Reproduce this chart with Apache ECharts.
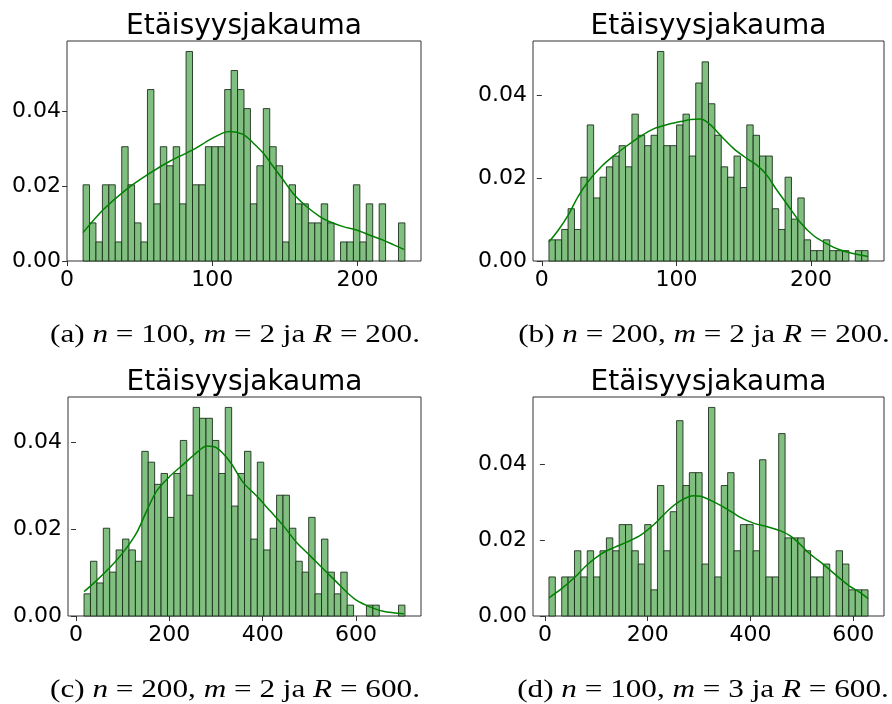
<!DOCTYPE html>
<html><head><meta charset="utf-8">
<script src="https://cdn.jsdelivr.net/npm/echarts@6/dist/echarts.min.js"></script>
<style>html,body{margin:0;padding:0;background:#fff}#c{width:892px;height:704px}</style>
</head><body><div id="c"></div>
<script>
const titleText = 'Etäisyysjakauma';
const captions = [
  '(a) {i|n} = 100, {i|m} = 2 ja {i|R} = 200.',
  '(b) {i|n} = 200, {i|m} = 2 ja {i|R} = 200.',
  '(c) {i|n} = 200, {i|m} = 2 ja {i|R} = 600.',
  '(d) {i|n} = 100, {i|m} = 3 ja {i|R} = 600.'
];
const yTicks = [0, 0.02, 0.04];
const xTicksA = [0, 100, 200];
const xTicksB = [0, 100, 200];
const xTicksC = [0, 200, 400, 600];
const xTicksD = [0, 200, 400, 600];

// Panel a
const binRangeA = [11.0, 232.6];
const heightsA = [0.0204,0.0102,0.0051,0.0204,0.0204,0.0051,0.0306,0.0204,0.0102,0.0051,0.0459,0.0153,0.0306,0.0255,0.0306,0.0153,0.0561,0.0204,0.0204,0.0306,0.0306,0.0306,0.0459,0.0510,0.0459,0.0408,0.0153,0.0255,0.0408,0.0306,0.0255,0.0051,0.0204,0.0153,0.0153,0.0102,0.0102,0.0153,0.0102,0,0.0051,0.0051,0.0204,0.0051,0.0153,0,0.0153,0,0,0.0102];
const kdeXA = [11.0,24.8,40.9,57.0,70.7,86.8,98.3,107.4,112.0,121.2,128.1,135.0,141.9,148.8,155.6,164.9,174.0,180.9,190.1,199.3,208.5,217.6,224.5,231.9];
const kdeYA = [0.0076,0.0137,0.0192,0.0235,0.0267,0.0298,0.0325,0.0343,0.0347,0.0339,0.0316,0.0289,0.0253,0.0217,0.0181,0.0146,0.0119,0.0105,0.0092,0.0083,0.0069,0.0056,0.0044,0.0031];

// Panel b
const binRangeB = [5.3, 242.3];
const heightsB = [0.0051,0.0051,0.0076,0.0126,0.0076,0.0202,0.0328,0.0152,0.0202,0.0227,0.0253,0.0278,0.0227,0.0354,0.0303,0.0278,0.0303,0.0505,0.0278,0.0278,0.0328,0.0354,0.0253,0.0429,0.0480,0.0379,0.0303,0.0227,0.0202,0.0253,0.0177,0.0328,0.0303,0.0253,0.0253,0.0126,0.0076,0.0202,0.0101,0.0152,0.0051,0.0025,0.0025,0.0051,0.0025,0.0025,0.0025,0,0.0025,0.0025];
const kdeXB = [5.3,12.2,19.5,26.9,34.3,44.1,54.0,63.8,73.6,83.4,93.3,103.1,110.5,117.9,125.3,132.6,142.5,152.3,159.7,167.1,174.5,181.9,191.7,201.5,211.4,221.2,231.0,242.3];
const kdeYB = [0.0046,0.0074,0.0110,0.0155,0.0191,0.0227,0.0255,0.0279,0.0301,0.0319,0.0329,0.0336,0.0341,0.0342,0.0328,0.0303,0.0271,0.0247,0.0231,0.0207,0.0171,0.0138,0.0094,0.0062,0.0042,0.0027,0.0018,0.0011];

// Panel c
const binRangeC = [17.1, 705.0];
const heightsC = [0.0051,0.0126,0.0076,0.0202,0.0101,0.0152,0.0177,0.0152,0.0126,0.0379,0.0354,0.0303,0.0328,0.0227,0.0328,0.0404,0.0278,0.0480,0.0455,0.0455,0.0404,0.0328,0.0480,0.0253,0.0328,0.0379,0.0177,0.0354,0.0152,0.0202,0.0278,0.0278,0.0202,0.0126,0.0101,0.0227,0.0051,0.0177,0.0101,0.0051,0.0101,0.0025,0,0,0.0025,0.0025,0,0,0,0.0025];
const kdeXC = [17.1,44.3,72.9,101.4,130,151.4,172.9,201.4,230,258.6,280,301.4,330,358.5,387.2,415.7,444.2,472.8,501.4,530,558.6,580,601.4,630,658.5,702.8];
const kdeYC = [0.0056,0.0082,0.0112,0.0147,0.0192,0.0242,0.0288,0.0322,0.0349,0.0376,0.0391,0.0387,0.0355,0.0307,0.0276,0.0242,0.0208,0.0169,0.0139,0.0108,0.0078,0.0055,0.0036,0.0021,0.0011,0.0005];

// Panel d
const binRangeD = [7.9, 629.0];
const heightsD = [0.0103,0,0.0103,0.0103,0.0172,0.0103,0.0172,0.0103,0.0172,0.0206,0.0172,0.0241,0.0241,0.0172,0.0137,0.0241,0.0069,0.0344,0.0172,0.0275,0.0515,0.0344,0.0378,0.0378,0.0137,0.0550,0.0103,0.0344,0.0378,0.0172,0.0241,0.0241,0.0172,0.0412,0.0103,0.0103,0.0481,0.0206,0.0206,0.0206,0.0172,0.0103,0.0103,0.0137,0,0.0172,0.0137,0.0069,0.0069,0.0069];
const kdeXD = [8,32.5,58.2,84,109.8,135.5,161.4,187.1,212.8,238.6,264.3,290,303,328.7,354.6,380.3,406,431.9,457.6,476.9,496.2,515.5,541.3,567.1,592.9,612.2,629];
const kdeYD = [0.0048,0.0072,0.0102,0.0137,0.0164,0.0181,0.0196,0.0214,0.0242,0.0277,0.0304,0.0317,0.0316,0.0301,0.0282,0.0260,0.0245,0.0236,0.0225,0.0212,0.0190,0.0164,0.0137,0.0107,0.0079,0.0063,0.0046];

const panels = [
  {range: binRangeA, h: heightsA, kx: kdeXA, ky: kdeYA, xt: xTicksA, grid: {left: 67, top: 41, width: 354, height: 220}},
  {range: binRangeB, h: heightsB, kx: kdeXB, ky: kdeYB, xt: xTicksB, grid: {left: 533, top: 41, width: 351, height: 220}},
  {range: binRangeC, h: heightsC, kx: kdeXC, ky: kdeYC, xt: xTicksC, grid: {left: 68, top: 397, width: 353, height: 219}},
  {range: binRangeD, h: heightsD, kx: kdeXD, ky: kdeYD, xt: xTicksD, grid: {left: 533, top: 397, width: 351, height: 219}}
];
const titleTops = [13, 13, 369, 369];
const captionPos = [[235, 335], [704, 335], [235, 690], [703, 690]];

const FONT = 'DejaVu Sans';
const grids = [], xAxes = [], yAxes = [], series = [], titles = [], graphics = [];
panels.forEach((p, i) => {
  const n = p.h.length;
  const w = (p.range[1] - p.range[0]) / n;
  const pad = 0.05 * (p.range[1] - p.range[0]);
  grids.push(Object.assign({show: true, borderColor: '#333', borderWidth: 1, backgroundColor: 'transparent'}, p.grid));
  const tickStyle = {show: true, length: 5, lineStyle: {color: '#333', width: 1}};
  xAxes.push({
    type: 'value', gridIndex: i, min: p.range[0] - pad, max: p.range[1] + pad,
    axisLine: {show: false}, splitLine: {show: false},
    axisTick: Object.assign({customValues: p.xt}, tickStyle),
    axisLabel: {customValues: p.xt, fontFamily: FONT, fontSize: 22, color: '#000', margin: 8}
  });
  yAxes.push({
    type: 'value', gridIndex: i, min: 0, max: Math.max(...p.h) * 1.05,
    axisLine: {show: false}, splitLine: {show: false},
    axisTick: Object.assign({customValues: yTicks}, tickStyle),
    axisLabel: {customValues: yTicks, fontFamily: FONT, fontSize: 22, color: '#000', margin: 6,
      formatter: v => v.toFixed(2)}
  });
  const barData = p.h.map((h, k) => [p.range[0] + k * w, p.range[0] + (k + 1) * w, h]);
  series.push({
    type: 'custom', xAxisIndex: i, yAxisIndex: i, silent: true,
    data: barData, encode: {x: [0, 1], y: 2},
    renderItem: (params, api) => {
      const h = api.value(2);
      if (h <= 0) return null;
      const p0 = api.coord([api.value(0), 0]);
      const p1 = api.coord([api.value(1), h]);
      return {type: 'rect', shape: {x: p0[0], y: p1[1], width: p1[0] - p0[0], height: p0[1] - p1[1]},
        style: {fill: '#80bf80', stroke: 'rgba(20,40,20,0.85)', lineWidth: 1}};
    }
  });
  series.push({
    type: 'line', xAxisIndex: i, yAxisIndex: i, silent: true, showSymbol: false, smooth: 0.3,
    data: p.kx.map((x, k) => [x, p.ky[k]]),
    lineStyle: {color: '#008000', width: 1.5}, z: 5
  });
  const cx = p.grid.left + p.grid.width / 2;
  titles.push({text: titleText, left: cx, top: titleTops[i], textAlign: 'center', padding: 0,
    textStyle: {fontFamily: FONT, fontSize: 28, fontWeight: 'normal', color: '#000'}});
  graphics.push({
    type: 'text', x: captionPos[i][0], y: captionPos[i][1], scaleX: 1.2, silent: true,
    style: {text: captions[i], align: 'center', verticalAlign: 'middle',
      fontFamily: 'Liberation Serif', fontSize: 26, fill: '#000',
      rich: {i: {fontFamily: 'Liberation Serif', fontSize: 26, fontStyle: 'italic', fill: '#000'}}}
  });
});

const chart = echarts.init(document.getElementById('c'), null, {renderer: 'canvas'});
chart.setOption({animation: false, backgroundColor: '#fff', title: titles, grid: grids, xAxis: xAxes, yAxis: yAxes, series: series, graphic: graphics});
</script></body></html>
